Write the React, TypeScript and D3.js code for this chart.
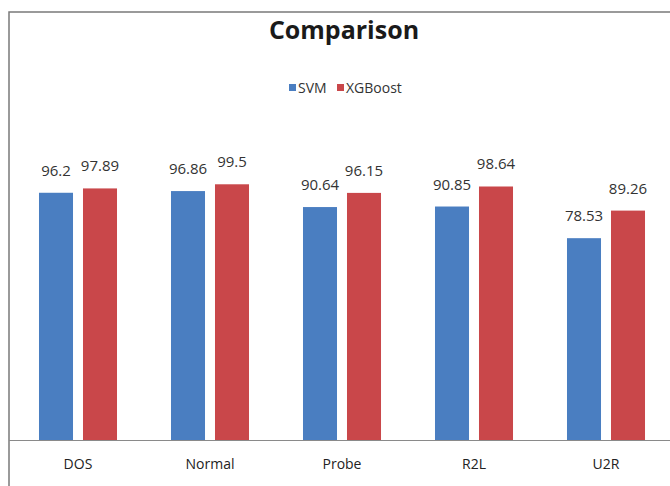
import React from "react";
import * as d3 from "d3";

const categories = ["DOS", "Normal", "Probe", "R2L", "U2R"];
const seriesNames = ["SVM", "XGBoost"];
const svmValues = [96.2, 96.86, 90.64, 90.85, 78.53];
const xgbValues = [97.89, 99.5, 96.15, 98.64, 89.26];
const seriesColors = ["#4A7EC1", "#C9474A"];

const W = 670;
const H = 486;

export default function App() {
  const x = d3.scaleBand<string>().domain(categories).range([12, 672]).paddingInner(0.409).paddingOuter(0.2045);
  const xi = d3.scaleBand<string>().domain(seriesNames).range([0, x.bandwidth()]).paddingInner(0.227);
  const y = d3.scaleLinear().domain([0, 100]).range([440, 183]);
  const series = [svmValues, xgbValues];
  const font = "'Open Sans', 'DejaVu Sans', sans-serif";

  return (
    <svg width={W} height={H} style={{ position: "absolute", left: 0, top: 0, background: "#fff" }}>
      <rect x={0} y={0} width={W} height={H} fill="#fff" />
      <rect x={9} y={12} width={720} height={520} fill="none" stroke="#7a7a7a" strokeWidth={1.5} />
      <text x={344} y={39} textAnchor="middle" fontFamily={font} fontWeight="bold" fontSize={25} fill="#1a1a1a">
        Comparison
      </text>
      {/* legend */}
      <g fontFamily={font} fontSize={14} fill="#333">
        <rect x={289} y={84} width={7} height={7} fill={seriesColors[0]} />
        <text x={298} y={93}>{seriesNames[0]}</text>
        <rect x={337} y={84} width={7} height={7} fill={seriesColors[1]} />
        <text x={346} y={93}>{seriesNames[1]}</text>
      </g>
      {categories.map((c, ci) => (
        <g key={c} transform={`translate(${x(c)},0)`}>
          {seriesNames.map((s, si) => {
            const v = series[si][ci];
            const bx = xi(s) as number;
            return (
              <g key={s}>
                <rect x={bx} y={y(v)} width={xi.bandwidth()} height={y(0) - y(v)} fill={seriesColors[si]} />
                <text
                  x={bx + xi.bandwidth() / 2}
                  y={y(v) - 17}
                  textAnchor="middle"
                  fontFamily={font}
                  fontSize={15}
                  fill="#333"
                >
                  {v}
                </text>
              </g>
            );
          })}
          <text x={x.bandwidth() / 2} y={469} textAnchor="middle" fontFamily={font} fontSize={14} fill="#222">
            {c}
          </text>
        </g>
      ))}
      <line x1={9} x2={670} y1={440.5} y2={440.5} stroke="#8a8a8a" strokeWidth={1.2} />
    </svg>
  );
}
